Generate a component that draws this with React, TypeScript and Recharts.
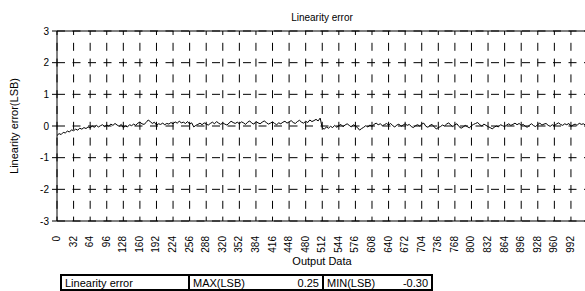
import { LineChart, Line, XAxis, YAxis, CartesianGrid, ReferenceLine } from 'recharts';

// Linearity error (LSB), sampled every 4 output codes
const STEP = 4;
const errorLsb = [
  -0.3, -0.24, -0.27, -0.2, -0.22, -0.16, -0.19, -0.12, -0.15, -0.1, -0.13, -0.07, -0.1, -0.05, -0.08, -0.03,
  -0.06, 0.0, -0.04, 0.02, -0.03, 0.01, 0.04, -0.02, 0.03, 0.0, 0.06, 0.02, 0.08, 0.03, -0.01, 0.05,
  -0.05, 0.0, -0.03, 0.04, 0.01, 0.06, 0.02, 0.09, 0.12, 0.07, 0.05, 0.11, 0.19, 0.14, 0.08, 0.12,
  0.03, 0.07, 0.05, 0.09, 0.04, 0.08, 0.06, 0.11, 0.07, 0.13, 0.09, 0.15, 0.1, 0.12, 0.08, 0.14,
  0.06, 0.1, -0.03, 0.02, 0.05, 0.09, 0.04, 0.1, 0.06, 0.03, 0.08, 0.12, 0.07, 0.14, 0.09, 0.05,
  0.1, 0.06, 0.03, 0.09, 0.15, 0.11, 0.08, 0.12, 0.07, 0.13, 0.1, 0.05, 0.12, 0.16, 0.09, 0.06,
  0.14, 0.1, 0.07, 0.12, 0.16, 0.11, 0.06, 0.09, 0.13, 0.08, 0.04, 0.1, 0.07, 0.12, 0.15, 0.09,
  0.13, 0.17, 0.11, 0.08, 0.14, 0.18, 0.12, 0.09, 0.15, 0.11, 0.19, 0.14, 0.17, 0.21, 0.16, 0.25,
  -0.06, -0.1, -0.03, -0.07, -0.01, -0.05, 0.02, -0.04, 0.01, 0.05, -0.02, 0.03, 0.07, 0.02, -0.03, 0.04,
  0.0, -0.05, -0.13, -0.08, -0.04, 0.01, -0.03, 0.03, -0.01, 0.05, 0.09, 0.04, 0.07, 0.01, 0.04, 0.08,
  0.03, 0.08, 0.01, -0.03, 0.03, 0.06, -0.01, 0.03, 0.07, 0.02, 0.05, -0.02, -0.05, 0.01, 0.04, 0.0,
  0.06, 0.09, -0.01, -0.04, 0.02, 0.05, -0.03, -0.09, -0.05, -0.02, 0.03, 0.0, 0.06, 0.1, 0.03, -0.02,
  0.04, 0.07, -0.02, -0.07, -0.03, 0.02, -0.02, -0.06, 0.01, 0.05, 0.08, 0.11, 0.04, 0.0, 0.06, 0.02,
  -0.02, -0.05, -0.09, -0.04, 0.0, -0.03, 0.04, 0.01, -0.02, 0.03, 0.07, 0.02, 0.05, 0.09, 0.04, 0.08,
  0.02, 0.05, -0.01, -0.04, 0.03, 0.07, 0.01, -0.02, 0.05, 0.09, 0.03, 0.06, 0.08, 0.02, -0.01, 0.04,
  0.01, 0.06, 0.1, 0.05, 0.02, 0.07, 0.04, 0.08, -0.01, 0.03, 0.06, 0.02, 0.09, 0.05, 0.07, 0.03,
];

const xTicks = [
  0, 32, 64, 96, 128, 160, 192, 224, 256, 288, 320, 352, 384, 416, 448, 480,
  512, 544, 576, 608, 640, 672, 704, 736, 768, 800, 832, 864, 896, 928, 960, 992,
];
const yTicks = [-3, -2, -1, 0, 1, 2, 3];

const summary = { name: 'Linearity error', max: '0.25', min: '-0.30' };

const data = errorLsb.map((v, i) => ({ code: i * STEP, err: v }));

const FONT = '"Liberation Sans", Arial, sans-serif';

function RotTick(props: any) {
  const { x, y, payload } = props;
  return (
    <text
      x={x}
      y={y}
      transform={`rotate(-90, ${x + 3}, ${y + 7})`}
      dx={3}
      dy={7}
      textAnchor="end"
      fontSize={10}
      fontFamily={FONT}
      fill="#000"
    >
      {payload.value}
    </text>
  );
}

const cell: React.CSSProperties = {
  position: 'absolute',
  top: 0,
  height: 13,
  borderRight: '2px solid #000',
  display: 'flex',
  justifyContent: 'space-between',
  alignItems: 'center',
  padding: '0 3px',
  boxSizing: 'border-box',
};

export default function App() {
  return (
    <div
      style={{
        position: 'fixed',
        left: 0,
        top: 0,
        width: 585,
        height: 291,
        overflow: 'hidden',
        background: '#fff',
        fontFamily: FONT,
        color: '#000',
      }}
    >
      <div style={{ position: 'absolute', left: 0, top: 0 }}>
        <LineChart width={600} height={291} data={data} margin={{ top: 31, right: 13, left: 0, bottom: 0 }}>
          <CartesianGrid horizontal={false} stroke="#000" strokeDasharray="8 7.8" strokeDashoffset={4} />
          <CartesianGrid vertical={false} stroke="#000" strokeDasharray="8 7.5" />
          <XAxis
            dataKey="code"
            type="number"
            domain={[0, 1023]}
            ticks={xTicks}
            interval={0}
            height={70}
            tickLine={false}
            axisLine={{ stroke: '#000' }}
            tick={<RotTick />}
          />
          <YAxis
            type="number"
            domain={[-3, 3]}
            ticks={yTicks}
            width={57}
            tickSize={5}
            tickMargin={3}
            tickLine={{ stroke: '#000' }}
            axisLine={{ stroke: '#000' }}
            tick={{ fontSize: 10, fill: '#000', fontFamily: FONT }}
          />
          <ReferenceLine y={3} stroke="#000" />
          <ReferenceLine x={1023} stroke="#000" />
          <Line
            type="linear"
            dataKey="err"
            stroke="#000"
            strokeWidth={1}
            dot={false}
            isAnimationActive={false}
          />
        </LineChart>
      </div>

      <div style={{ position: 'absolute', left: 0, width: 644, top: 12, textAlign: 'center', fontSize: 10 }}>
        Linearity error
      </div>
      <div
        style={{
          position: 'absolute',
          left: 14,
          top: 126,
          transform: 'translate(-50%, -50%) rotate(-90deg)',
          whiteSpace: 'nowrap',
          fontSize: 11,
        }}
      >
        Linearity error(LSB)
      </div>
      <div style={{ position: 'absolute', left: 0, width: 644, top: 255, textAlign: 'center', fontSize: 11 }}>
        Output Data
      </div>

      <div
        style={{
          position: 'absolute',
          left: 60,
          top: 274,
          width: 373,
          height: 17,
          border: '2px solid #000',
          boxSizing: 'border-box',
          fontSize: 11,
        }}
      >
        <div style={{ ...cell, left: 0, width: 128 }}>
          <span>{summary.name}</span>
        </div>
        <div style={{ ...cell, left: 128, width: 134 }}>
          <span>MAX(LSB)</span>
          <span>{summary.max}</span>
        </div>
        <div style={{ ...cell, left: 262, width: 107, borderRight: 'none' }}>
          <span>MIN(LSB)</span>
          <span>{summary.min}</span>
        </div>
      </div>
    </div>
  );
}
